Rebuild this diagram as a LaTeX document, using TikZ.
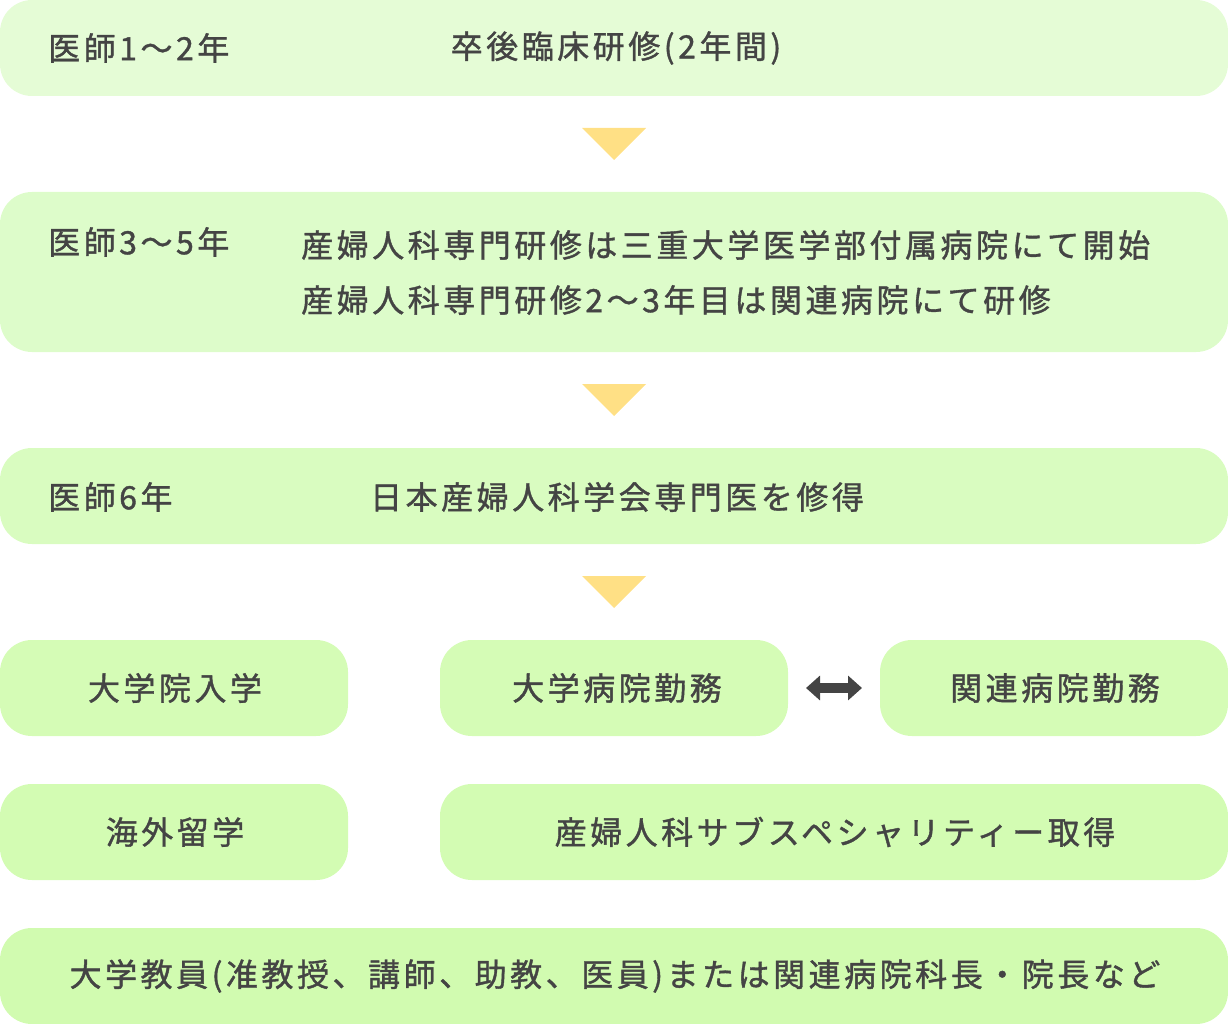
\documentclass[tikz,border=0pt]{standalone}
\usepackage{fontspec}
\setmainfont{Noto Sans CJK JP}[LetterSpace=11,FakeBold=1.2]
\usetikzlibrary{arrows.meta,calc}
\definecolor{txt}{HTML}{444444}
\definecolor{cA}{HTML}{E5FCD6}
\definecolor{cB}{HTML}{DDFCCA}
\definecolor{cC}{HTML}{D9FCC0}
\definecolor{cD}{HTML}{D5FCB6}
\definecolor{cE}{HTML}{D3FCB3}
\definecolor{cF}{HTML}{D1FBB0}
\definecolor{tri}{HTML}{FFE085}
\tikzset{
  box/.style={rectangle, rounded corners=32pt, draw=none, inner sep=0pt, outer sep=0pt, anchor=north west},
  lbl/.style={text=txt, inner sep=0pt, font=\fontsize{32pt}{38pt}\selectfont},
  tridown/.style={fill=tri},
  dbl/.style={draw=txt, line width=10pt, {Triangle[length=14pt,width=24pt]}-{Triangle[length=14pt,width=24pt]}, shorten <=18pt, shorten >=18pt}
}
\begin{document}
\begin{tikzpicture}[x=1pt,y=-1pt]
\useasboundingbox (0,0) rectangle (1228,1024);
% boxes
\node[box, fill=cA, minimum width=1228pt, minimum height=96pt] (b1) at (0,0) {};
\node[box, fill=cB, minimum width=1228pt, minimum height=160pt] (b2) at (0,192) {};
\node[box, fill=cC, minimum width=1228pt, minimum height=96pt] (b3) at (0,448) {};
\node[box, fill=cD, minimum width=348pt, minimum height=96pt] (b4a) at (0,640) {};
\node[box, fill=cD, minimum width=348pt, minimum height=96pt] (b4b) at (440,640) {};
\node[box, fill=cD, minimum width=348pt, minimum height=96pt] (b4c) at (880,640) {};
\node[box, fill=cE, minimum width=348pt, minimum height=96pt] (b5a) at (0,784) {};
\node[box, fill=cE, minimum width=788pt, minimum height=96pt] (b5b) at (440,784) {};
\node[box, fill=cF, minimum width=1228pt, minimum height=96pt] (b6) at (0,928) {};
% triangles
\fill[tridown] ($(b1.south)+(-32,32)$) -- ($(b1.south)+(32,32)$) -- ($(b1.south)+(0,64)$) -- cycle;
\fill[tridown] ($(b2.south)+(-32,32)$) -- ($(b2.south)+(32,32)$) -- ($(b2.south)+(0,64)$) -- cycle;
\fill[tridown] ($(b3.south)+(-32,32)$) -- ($(b3.south)+(32,32)$) -- ($(b3.south)+(0,64)$) -- cycle;
% double arrow
\draw[dbl] (b4b.east) -- (b4c.west);
% texts
\node[lbl, anchor=west] (t1a) at (48,48) {医師1〜2年};
\node[lbl] (t1b) at (616,48) {卒後臨床研修(2年間)};
\node[lbl, anchor=west] (t2a) at (48,242) {医師3〜5年};
\node[lbl, anchor=west] (t2b) at (301,245) {産婦人科専門研修は三重大学医学部付属病院にて開始};
\node[lbl, anchor=west] (t2c) at (301,300) {産婦人科専門研修2〜3年目は関連病院にて研修};
\node[lbl, anchor=west] (t3a) at (48,497) {医師6年};
\node[lbl] (t3b) at (617,497) {日本産婦人科学会専門医を修得};
\node[lbl] (t4a) at ($(b4a.center)+(1,0)$) {大学院入学};
\node[lbl] (t4b) at ($(b4b.center)+(3,0)$) {大学病院勤務};
\node[lbl] (t4c) at ($(b4c.center)+(1,0)$) {関連病院勤務};
\node[lbl] (t5a) at ($(b5a.center)+(1,0)$) {海外留学};
\node[lbl] (t5b) at ($(b5b.center)+(1,0)$) {産婦人科サブスペシャリティー取得};
\node[lbl] (t6) at ($(b6.center)+(1,0)$) {大学教員(准教授、講師、助教、医員)または関連病院科長・院長など};
\end{tikzpicture}
\end{document}
